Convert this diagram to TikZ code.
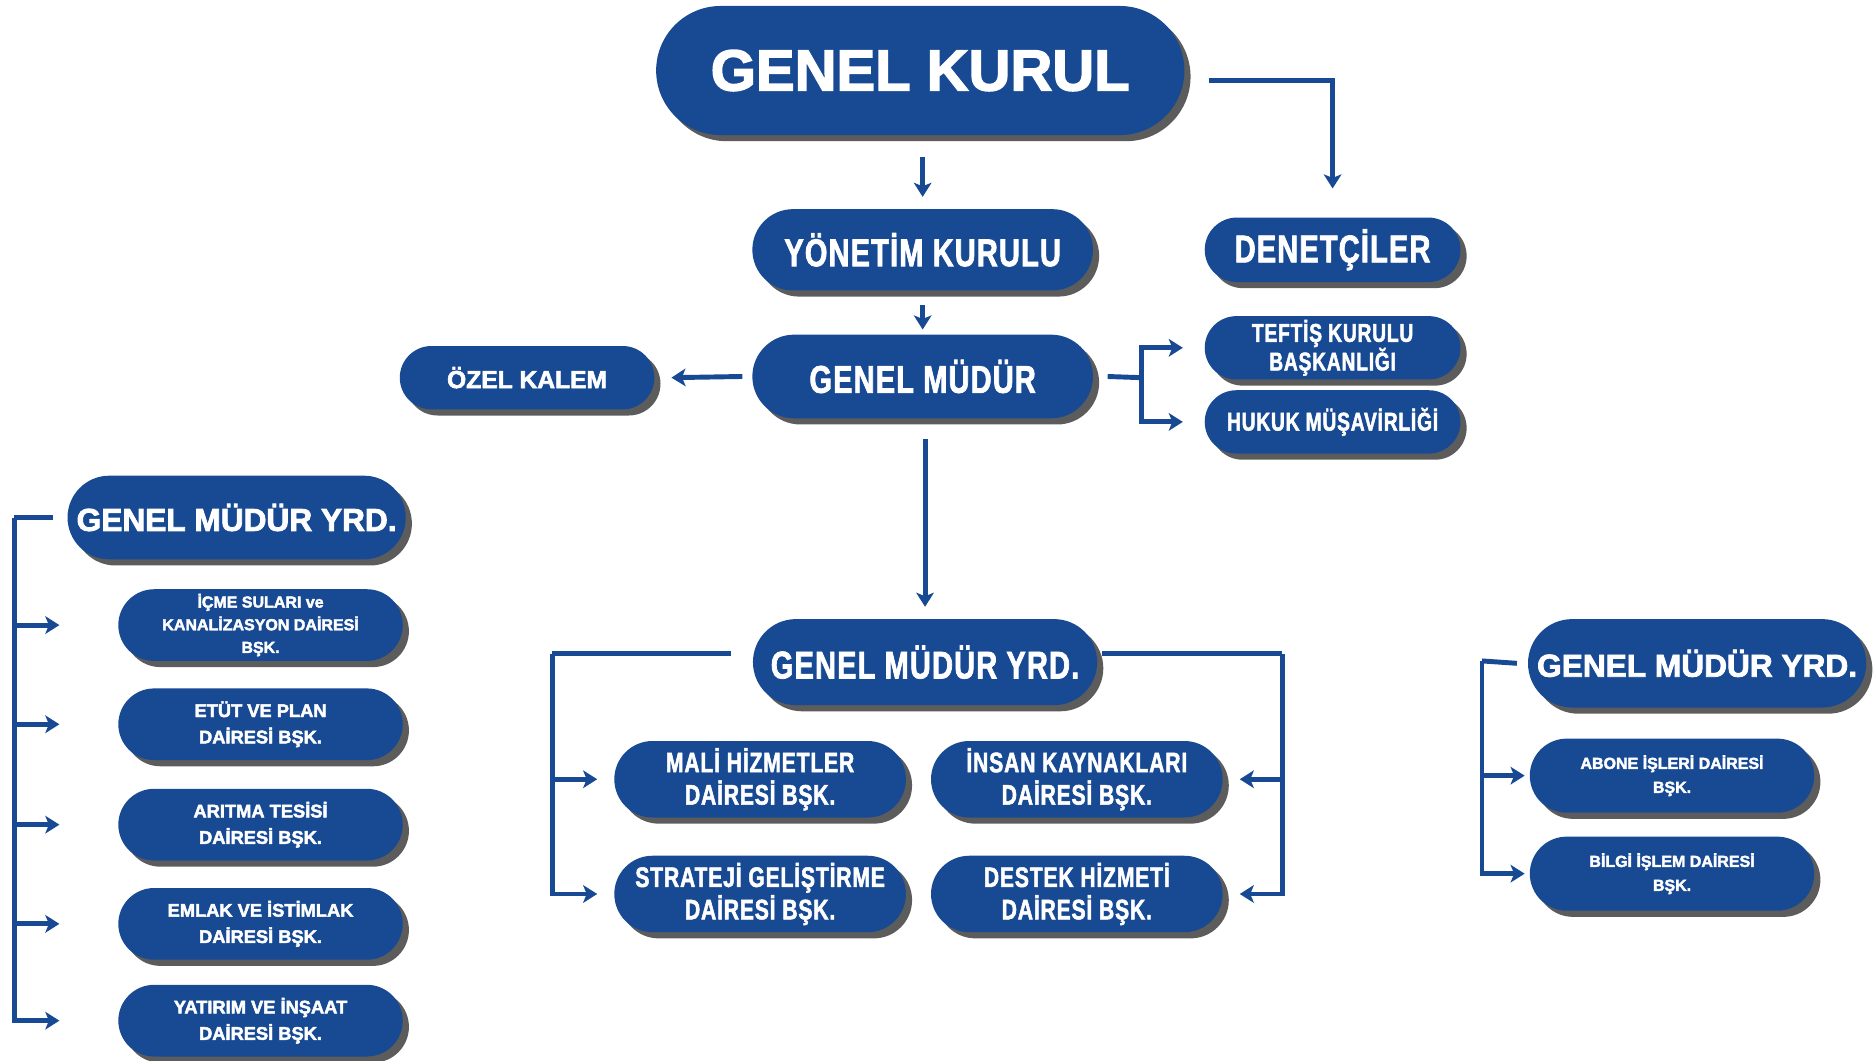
\documentclass[tikz,border=0pt]{standalone}
\usepackage{fontspec}
\setmainfont{Liberation Sans}
\newfontfamily\condfont[FakeStretch=0.75, FakeBold=1.8, LetterSpace=3]{Liberation Sans}
\newfontfamily\heavyfont[FakeBold=2.5]{Liberation Sans}
\usetikzlibrary{shapes.misc,shadows,arrows.meta}
\definecolor{orgblue}{RGB}{24,74,148}
\newcommand\ux{0.0239cm}

\begin{document}
\begin{tikzpicture}[x=\ux, y=-\ux]
  \tikzstyle{office} = [rounded rectangle, fill=orgblue, text=white, align=center, inner sep=0pt,
                        drop shadow={shadow xshift=3.5pt, shadow yshift=-3.5pt, fill=black!75, opacity=.85}]
  \tikzstyle{linkline} = [draw=orgblue, line width=2.8pt]
  \tikzstyle{linkarrow} = [linkline, -{Stealth[length=8pt, width=10pt, inset=2pt]}]

\fill[white] (0,0) rectangle (1568,887);
\useasboundingbox (0,0) rectangle (1568,887);

\node[office, minimum width=442*\ux, minimum height=108*\ux, font={\heavyfont\bfseries\fontsize{33}{36}\selectfont}] (GK) at (770,59) {GENEL KURUL};
\node[office, minimum width=285*\ux, minimum height=68*\ux, font={\condfont\bfseries\fontsize{22}{24}\selectfont}] (YK) at (772,209) {YÖNETİM KURULU};
\node[office, minimum width=214*\ux, minimum height=54*\ux, font={\condfont\bfseries\fontsize{22}{24}\selectfont}] (DEN) at (1115,209) {DENETÇİLER};
\node[office, minimum width=285*\ux, minimum height=70*\ux, font={\condfont\bfseries\fontsize{22}{24}\selectfont}] (GM) at (772,315) {GENEL MÜDÜR};
\node[office, minimum width=213*\ux, minimum height=53*\ux, font={\heavyfont\bfseries\fontsize{14}{16}\selectfont}] (OK) at (441,316) {ÖZEL KALEM};
\node[office, minimum width=214*\ux, minimum height=53*\ux, font={\condfont\bfseries\fontsize{14.6}{16.3}\selectfont}] (TKB) at (1115,291) {TEFTİŞ KURULU\\BAŞKANLIĞI};
\node[office, minimum width=214*\ux, minimum height=53*\ux, font={\condfont\bfseries\fontsize{14.6}{16.3}\selectfont}] (HM) at (1115,353) {HUKUK MÜŞAVİRLİĞİ};

\node[office, minimum width=283*\ux, minimum height=70*\ux, font={\heavyfont\bfseries\fontsize{18}{20}\selectfont}] (GMYL) at (198,433) {GENEL MÜDÜR YRD.};
\node[office, minimum width=238*\ux, minimum height=60*\ux, font={\heavyfont\bfseries\fontsize{9.1}{12.9}\selectfont}] (IKS) at (218,523) {İÇME SULARI ve\\KANALİZASYON DAİRESİ\\BŞK.};
\node[office, minimum width=238*\ux, minimum height=60*\ux, font={\heavyfont\bfseries\fontsize{10.4}{15}\selectfont}] (EPD) at (218,606) {ETÜT VE PLAN\\DAİRESİ BŞK.};
\node[office, minimum width=238*\ux, minimum height=60*\ux, font={\heavyfont\bfseries\fontsize{10.4}{15}\selectfont}] (ATD) at (218,690) {ARITMA TESİSİ\\DAİRESİ BŞK.};
\node[office, minimum width=238*\ux, minimum height=60*\ux, font={\heavyfont\bfseries\fontsize{10.4}{15}\selectfont}] (EID) at (218,773) {EMLAK VE İSTİMLAK\\DAİRESİ BŞK.};
\node[office, minimum width=238*\ux, minimum height=60*\ux, font={\heavyfont\bfseries\fontsize{10.4}{15}\selectfont}] (YID) at (218,854) {YATIRIM VE İNŞAAT\\DAİRESİ BŞK.};

\node[office, minimum width=288*\ux, minimum height=72*\ux, font={\condfont\bfseries\fontsize{22}{24}\selectfont}] (GMYC) at (774,554) {GENEL MÜDÜR YRD.};
\node[office, minimum width=244*\ux, minimum height=64*\ux, font={\condfont\bfseries\fontsize{16}{18.4}\selectfont}] (MHD) at (636,652) {MALİ HİZMETLER\\DAİRESİ BŞK.};
\node[office, minimum width=244*\ux, minimum height=64*\ux, font={\condfont\bfseries\fontsize{16}{18.4}\selectfont}] (IKD) at (901,652) {İNSAN KAYNAKLARI\\DAİRESİ BŞK.};
\node[office, minimum width=244*\ux, minimum height=64*\ux, font={\condfont\bfseries\fontsize{16}{18.4}\selectfont}] (SGD) at (636,748) {STRATEJİ GELİŞTİRME\\DAİRESİ BŞK.};
\node[office, minimum width=244*\ux, minimum height=64*\ux, font={\condfont\bfseries\fontsize{16}{18.4}\selectfont}] (DHD) at (901,748) {DESTEK HİZMETİ\\DAİRESİ BŞK.};

\node[office, minimum width=283*\ux, minimum height=74*\ux, font={\heavyfont\bfseries\fontsize{18}{20}\selectfont}] (GMYR) at (1420,555) {GENEL MÜDÜR YRD.};
\node[office, minimum width=238*\ux, minimum height=62*\ux, font={\heavyfont\bfseries\fontsize{9.1}{13.6}\selectfont}] (AID) at (1399,649) {ABONE İŞLERİ DAİRESİ\\BŞK.};
\node[office, minimum width=238*\ux, minimum height=62*\ux, font={\heavyfont\bfseries\fontsize{9.1}{13.6}\selectfont}] (BID) at (1399,731) {BİLGİ İŞLEM DAİRESİ\\BŞK.};

\draw[linkarrow, shorten <=18*\ux, shorten >=10*\ux] (YK.north |- GK.south) -- (YK.north);
\draw[linkarrow] ([xshift=20*\ux, yshift=-8*\ux]GK.east) -| ([yshift=24*\ux]DEN.north);
\draw[linkarrow, shorten <=12*\ux, shorten >=4*\ux] (YK.south) -- (GM.north);
\draw[linkarrow] ([xshift=-8*\ux]GM.west) -- ([xshift=14*\ux]OK.east);
\coordinate (gmj) at (955,316);
\draw[linkline] ([xshift=12*\ux]GM.east) -- (gmj);
\draw[linkarrow] (gmj) |- ([xshift=-18*\ux]TKB.west);
\draw[linkarrow] (gmj) |- ([xshift=-18*\ux]HM.west);
\draw[linkarrow, shorten <=17*\ux, shorten >=10*\ux] (GMYC.north |- GM.south) -- (GMYC.north);

\coordinate (lj) at (12,433);
\draw[linkline] ([xshift=-12*\ux]GMYL.west) -- (lj);
\foreach \n in {IKS,EPD,ATD,EID,YID}
  \draw[linkarrow] (lj) |- ([xshift=-49*\ux]\n.west);

\coordinate (cl) at (462,547);
\coordinate (cr) at (1073,547);
\draw[linkline] ([xshift=-18*\ux, yshift=7*\ux]GMYC.west) -- (cl);
\draw[linkline] ([xshift=4*\ux, yshift=7*\ux]GMYC.east) -- (cr);
\foreach \n in {MHD,SGD}
  \draw[linkarrow] (cl) |- ([xshift=-14*\ux]\n.west);
\foreach \n in {IKD,DHD}
  \draw[linkarrow] (cr) |- ([xshift=14*\ux]\n.east);

\coordinate (rj) at (1240,553);
\draw[linkline] ([xshift=-9*\ux]GMYR.west) -- (rj);
\foreach \n in {AID,BID}
  \draw[linkarrow] (rj) |- ([xshift=-4*\ux]\n.west);
\end{tikzpicture}
\end{document}
